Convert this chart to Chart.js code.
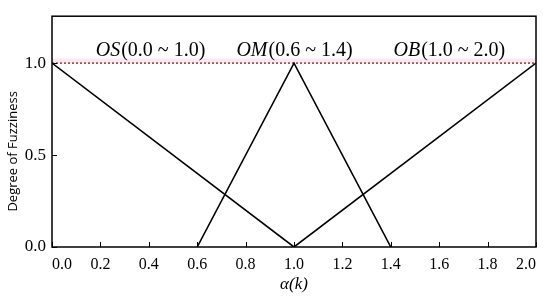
<!DOCTYPE html>
<html>
<head>
<meta charset="utf-8">
<script src="https://cdn.jsdelivr.net/npm/chart.js@4"></script>
<style>
  html, body { margin: 0; padding: 0; background: #fff; }
  #wrap { width: 550px; height: 299px; position: relative; }
</style>
</head>
<body>
<div id="wrap"><canvas id="fuzzy-chart"></canvas></div>
<script>
// membership functions (x = alpha(k), y = degree)
const osX = [0.0, 1.0];
const osY = [1.0, 0.0];
const omX = [0.6, 1.0, 1.4];
const omY = [0.0, 1.0, 0.0];
const obX = [1.0, 2.0];
const obY = [0.0, 1.0];

const xTicks = [0.0, 0.2, 0.4, 0.6, 0.8, 1.0, 1.2, 1.4, 1.6, 1.8, 2.0];
const yTicks = [0.0, 0.5, 1.0];

const labels = [
    { text: "OS", rest: "(0.0 ~ 1.0)", x: 0.405 },
    { text: "OM", rest: "(0.6 ~ 1.4)", x: 1.0 },
    { text: "OB", rest: "(1.0 ~ 2.0)", x: 1.64 }
];

function toPoints(xs, ys) {
    return xs.map((x, i) => ({ x: x, y: ys[i] }));
}

const serif = '"Liberation Serif", "Times New Roman", serif';

// frame, inner ticks, dotted 1.0 line and the set names
const decorPlugin = {
    id: 'decor',
    beforeDatasetsDraw(chart) {
        const ctx = chart.ctx;
        const x = chart.scales.x, y = chart.scales.y;
        const y1 = y.getPixelForValue(1.0);
        ctx.save();
        ctx.strokeStyle = 'rgba(255, 170, 220, 0.3)';
        ctx.lineWidth = 5;
        ctx.beginPath();
        ctx.moveTo(x.left, y1 - 2);
        ctx.lineTo(x.right, y1 - 2);
        ctx.stroke();
        ctx.strokeStyle = '#6b4420';
        ctx.lineWidth = 1.4;
        ctx.setLineDash([2, 2]);
        ctx.beginPath();
        ctx.moveTo(x.left, y1);
        ctx.lineTo(x.right, y1);
        ctx.stroke();
        ctx.restore();
    },
    afterDatasetsDraw(chart) {
        const ctx = chart.ctx;
        const area = chart.chartArea;
        const x = chart.scales.x, y = chart.scales.y;
        ctx.save();
        ctx.strokeStyle = '#000';
        ctx.lineWidth = 1.5;
        ctx.strokeRect(area.left, area.top, area.right - area.left, area.bottom - area.top);
        ctx.lineWidth = 1;
        ctx.beginPath();
        xTicks.forEach(v => {
            const px = Math.round(x.getPixelForValue(v)) + 0.5;
            ctx.moveTo(px, area.bottom);
            ctx.lineTo(px, area.bottom - 5);
        });
        yTicks.forEach(v => {
            const py = Math.round(y.getPixelForValue(v)) + 0.5;
            ctx.moveTo(area.left, py);
            ctx.lineTo(area.left + 5, py);
        });
        ctx.stroke();

        ctx.fillStyle = '#000';
        ctx.textBaseline = 'alphabetic';
        const ty = y.getPixelForValue(1.0) - 7;
        labels.forEach(l => {
            ctx.font = 'italic 20px ' + serif;
            const w1 = ctx.measureText(l.text).width;
            ctx.font = '20px ' + serif;
            const w2 = ctx.measureText(l.rest).width;
            const start = x.getPixelForValue(l.x) - (w1 + w2) / 2;
            ctx.font = 'italic 20px ' + serif;
            ctx.fillText(l.text, start, ty);
            ctx.font = '20px ' + serif;
            ctx.fillText(l.rest, start + w1 + 1, ty);
        });

        // y title, centred a little below the plot middle like the original
        ctx.translate(13, y.getPixelForValue(0.52));
        ctx.rotate(-Math.PI / 2);
        ctx.textAlign = 'center';
        ctx.textBaseline = 'middle';
        ctx.font = '13px "Open Sans", sans-serif';
        ctx.fillText('Degree of Fuzziness', 0, 0);
        ctx.restore();
    }
};

const lineStyle = {
    borderColor: '#000',
    borderWidth: 1.6,
    pointRadius: 0,
    fill: false,
    tension: 0
};

new Chart(document.getElementById('fuzzy-chart'), {
    type: 'scatter',
    data: {
        datasets: [
            Object.assign({ label: 'OS', data: toPoints(osX, osY), showLine: true }, lineStyle),
            Object.assign({ label: 'OM', data: toPoints(omX, omY), showLine: true }, lineStyle),
            Object.assign({ label: 'OB', data: toPoints(obX, obY), showLine: true }, lineStyle)
        ]
    },
    options: {
        responsive: true,
        maintainAspectRatio: false,
        animation: false,
        layout: { padding: { top: 6, right: 14, left: 0, bottom: 0 } },
        plugins: {
            legend: { display: false },
            tooltip: { enabled: false }
        },
        scales: {
            x: {
                type: 'linear',
                min: 0,
                max: 2,
                afterBuildTicks: axis => { axis.ticks = xTicks.map(v => ({ value: v })); },
                afterFit: axis => { axis.height = 52; },
                grid: { display: false, drawTicks: false },
                border: { display: false },
                ticks: {
                    align: 'inner',
                    padding: 8,
                    color: '#000',
                    font: { family: serif, size: 16 },
                    callback: v => v.toFixed(1)
                },
                title: {
                    display: true,
                    text: 'α(k)',
                    color: '#000',
                    font: { family: serif, size: 17, style: 'italic' },
                    padding: { top: 0, bottom: 4 }
                }
            },
            y: {
                type: 'linear',
                min: 0,
                max: 1.255,
                afterBuildTicks: axis => { axis.ticks = yTicks.map(v => ({ value: v })); },
                afterFit: axis => { axis.width = 52; },
                grid: { display: false, drawTicks: false },
                border: { display: false },
                ticks: {
                    padding: 6,
                    color: '#000',
                    font: { family: serif, size: 17 },
                    callback: v => v.toFixed(1)
                },
                title: { display: false }
            }
        }
    },
    plugins: [decorPlugin]
});
</script>
</body>
</html>
